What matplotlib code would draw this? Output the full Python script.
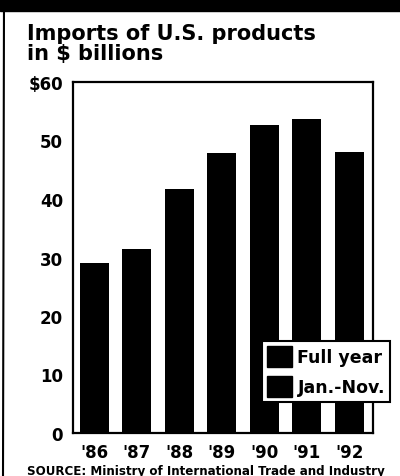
import numpy as np
import matplotlib.pyplot as plt
from matplotlib.patches import Patch, Rectangle
from matplotlib.lines import Line2D

plt.rcParams['font.family'] = ['DejaVu Sans']
plt.rcParams['font.weight'] = 'bold'

years = ["'86", "'87", "'88", "'89", "'90", "'91", "'92"]
imports = [29.0, 31.4, 41.7, 47.9, 52.6, 53.6, 48.1]
y_ticks = [0, 10, 20, 30, 40, 50, 60]
y_labels = ['0', '10', '20', '30', '40', '50', '$60']
legend_labels = ['Full year', 'Jan.-Nov.']

fig = plt.figure(figsize=(4.0, 4.77), dpi=100)
fig.patch.set_facecolor('white')

# black band at top and rule on the left
fig.add_artist(Rectangle((0, 1 - 12 / 477), 1, 12 / 477, transform=fig.transFigure,
                         color='black', zorder=0))
fig.add_artist(Line2D([4 / 400, 3 / 400], [1, 0], transform=fig.transFigure,
                      color='black', lw=1.5))

fig.text(27 / 400, 1 - 24 / 477, 'Imports of U.S. products\nin $ billions',
         fontsize=15, fontweight='bold', va='top', ha='left', linespacing=0.98)

ax = fig.add_axes([72.7 / 400, 1 - 434 / 477, (373 - 72.7) / 400, (434 - 83) / 477])
x = np.arange(len(years))
ax.bar(x, imports, width=0.68, color='black')
ax.set_xlim(-0.51, 6.56)
ax.set_ylim(0, 60)
ax.set_xticks(x)
ax.set_xticklabels(years, fontsize=12, fontweight='bold')
ax.set_yticks(y_ticks)
ax.set_yticklabels(y_labels, fontsize=12, fontweight='bold')
ax.tick_params(length=0, pad=7)
for s in ax.spines.values():
    s.set_linewidth(1.6)

handles = [Patch(facecolor='black', edgecolor='black') for _ in legend_labels]
leg = ax.legend(handles, legend_labels, loc='lower left', bbox_to_anchor=(0.63, 0.088),
                fancybox=False, framealpha=1, edgecolor='black', handlelength=1.45,
                handleheight=1.45, handletextpad=0.3, borderpad=0.3, labelspacing=0.55,
                borderaxespad=0, prop={'weight': 'bold', 'size': 12.5})
leg.get_frame().set_linewidth(1.5)
leg.set_clip_on(False)

fig.text(27 / 400, 1 - 465 / 477, 'SOURCE: Ministry of International Trade and Industry',
         fontsize=8.6, fontweight='bold', va='top', ha='left')

fig.savefig('out.png', dpi=100)
